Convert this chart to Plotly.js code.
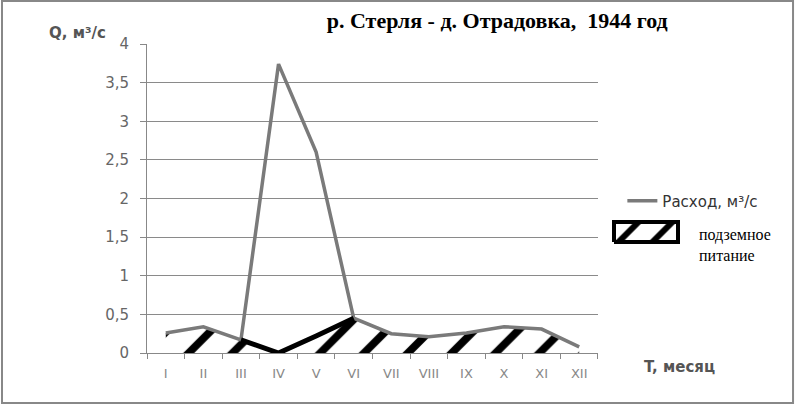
<!DOCTYPE html>
<html>
<head>
<meta charset="utf-8">
<script src="https://cdn.plot.ly/plotly-3.0.1.min.js"></script>
<style>
  html, body { margin: 0; padding: 0; background: #fff; }
  #chart { width: 802px; height: 405px; }
</style>
</head>
<body>
<div id="chart"></div>
<script>
// months of 1944
var months = ['I', 'II', 'III', 'IV', 'V', 'VI', 'VII', 'VIII', 'IX', 'X', 'XI', 'XII'];
// discharge, m3/s
var discharge = [0.26, 0.34, 0.17, 3.74, 2.60, 0.45, 0.25, 0.21, 0.26, 0.34, 0.31, 0.08];
// underground (base) flow, m3/s
var baseflow = [0.26, 0.34, 0.17, 0.0, 0.22, 0.45, 0.25, 0.21, 0.26, 0.34, 0.31, 0.08];
// months where the separation line is drawn (III..VI)
var sepMonths = ['III', 'IV', 'V', 'VI'];

var sepValues = sepMonths.map(function(m){ return baseflow[months.indexOf(m)]; });

var hatch = {shape: '/', size: 31, solidity: 0.25, fgcolor: '#000', bgcolor: 'rgba(0,0,0,0)'};

var traces = [
  {
    x: months, y: baseflow, type: 'scatter', mode: 'lines',
    name: 'подземное питание',
    fill: 'tozeroy', fillcolor: 'rgba(0,0,0,0)', fillpattern: hatch,
    line: {color: '#000', width: 0},
    showlegend: false, hoverinfo: 'skip'
  },
  {
    x: months, y: discharge, type: 'scatter', mode: 'lines',
    name: 'Расход, м³/с',
    line: {color: '#7a7a7a', width: 3.5}
  },
  {
    x: sepMonths, y: sepValues, type: 'scatter', mode: 'lines',
    line: {color: '#000', width: 5},
    showlegend: false, hoverinfo: 'skip'
  },
  // legend swatch for the hatched area
  {
    x: [0, 1, 1, 0, 0], y: [0, 0, 1, 1, 0], xaxis: 'x2', yaxis: 'y2',
    type: 'scatter', mode: 'lines', fill: 'toself', fillcolor: 'rgba(0,0,0,0)',
    fillpattern: {shape: '/', size: 24, solidity: 0.25, fgcolor: '#000', bgcolor: 'rgba(0,0,0,0)'},
    line: {color: '#000', width: 4},
    showlegend: false, hoverinfo: 'skip'
  }
];

var layout = {
  width: 802, height: 405,
  margin: {l: 147, r: 10, t: 44, b: 52},
  paper_bgcolor: '#fff', plot_bgcolor: 'rgba(0,0,0,0)',
  separators: ', ',
  title: {
    text: '<b>р. Стерля - д. Отрадовка,  1944 год</b>',
    font: {family: 'Liberation Serif', size: 22, color: '#000'},
    x: 0.62, xanchor: 'center', y: 0.95, yanchor: 'middle'
  },
  showlegend: true,
  legend: {
    x: 0.737, y: 0.492, xanchor: 'left', yanchor: 'middle',
    font: {family: 'DejaVu Sans', size: 15, color: '#333'},
    bgcolor: 'rgba(0,0,0,0)'
  },
  xaxis: {
    type: 'category', domain: [0, 0.6992], range: [-0.5, 11.5],
    showgrid: false, showline: true, linecolor: '#888', linewidth: 1,
    ticks: 'outside', tickson: 'boundaries', ticklen: 5, tickcolor: '#888',
    ticklabelstandoff: 8,
    tickfont: {family: 'DejaVu Sans', size: 13, color: '#888'},
    zeroline: false, fixedrange: true
  },
  yaxis: {
    range: [0, 4], dtick: 0.5,
    showgrid: true, gridcolor: '#8a8a8a', gridwidth: 1,
    showline: true, linecolor: '#888', linewidth: 1,
    ticks: 'outside', ticklen: 6, tickcolor: '#888',
    ticklabelstandoff: 8,
    tickfont: {family: 'DejaVu Sans', size: 15, color: '#666'},
    zeroline: false, fixedrange: true
  },
  xaxis2: {domain: [0.7141, 0.8332], range: [-0.1, 1.1], visible: false, fixedrange: true},
  yaxis2: {domain: [0.3495, 0.4337], range: [-0.15, 1.15], visible: false, fixedrange: true, anchor: 'x2'},
  annotations: [
    {text: '<b>Q, м³/с</b>', xref: 'paper', yref: 'paper', x: -0.1085, y: 1.036,
     xanchor: 'center', yanchor: 'middle', showarrow: false,
     font: {family: 'DejaVu Sans', size: 15, color: '#555'}},
    {text: '<b>T, месяц</b>', xref: 'paper', yref: 'paper', x: 0.825, y: -0.045,
     xanchor: 'center', yanchor: 'middle', showarrow: false,
     font: {family: 'DejaVu Sans', size: 15, color: '#555'}},
    {text: 'подземное<br>питание', xref: 'paper', yref: 'paper', x: 0.853, y: 0.348,
     xanchor: 'left', yanchor: 'middle', align: 'left', showarrow: false,
     font: {family: 'Liberation Serif', size: 16, color: '#000'}}
  ],
  shapes: [
    {type: 'rect', xref: 'paper', yref: 'paper', x0: -0.2248, x1: 1.0016, y0: -0.1618, y1: 1.139,
     line: {color: '#888', width: 2}, fillcolor: 'rgba(0,0,0,0)'}
  ]
};

Plotly.newPlot('chart', traces, layout, {displayModeBar: false, staticPlot: true});
</script>
</body>
</html>
